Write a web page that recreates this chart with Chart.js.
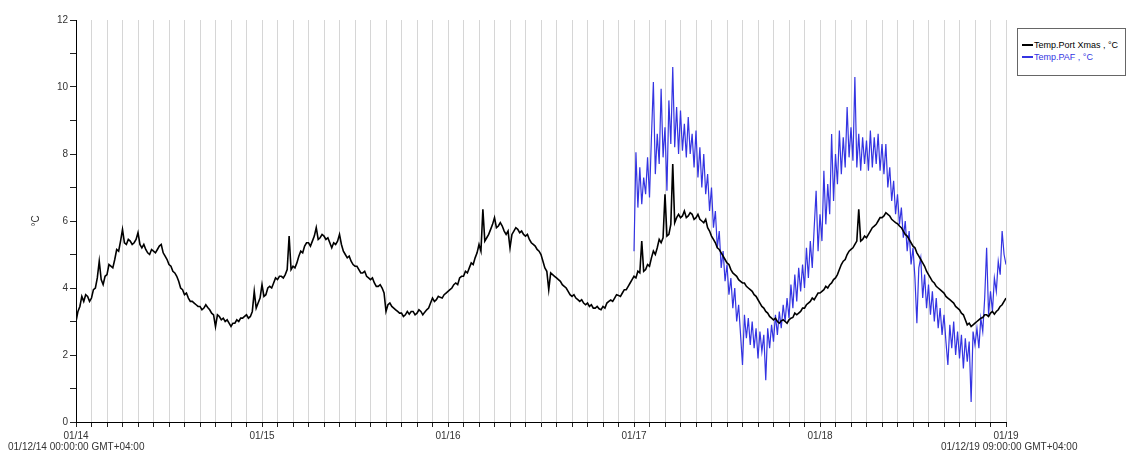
<!DOCTYPE html>
<html><head><meta charset="utf-8">
<script src="https://cdn.jsdelivr.net/npm/chart.js@4.4.0/dist/chart.umd.min.js"></script>
<style>
html,body{margin:0;padding:0;background:#fff;}
#wrap{position:relative;width:1130px;height:452px;overflow:hidden;}
canvas{position:absolute;left:0;top:0;}
.lbl{position:absolute;font-family:"Liberation Sans",Arial,sans-serif;font-size:10px;color:#333;white-space:nowrap;line-height:12px;}
#legend{position:absolute;left:1017px;top:28px;width:109px;height:48px;border:1px solid #666;box-sizing:border-box;font-family:"Liberation Sans",Arial,sans-serif;font-size:9px;line-height:12px;padding-top:10px;padding-left:4px;background:#fff;}
#legend div{white-space:nowrap;}
#legend span.sw{display:inline-block;width:11px;height:2px;vertical-align:middle;margin-right:1px;margin-top:-2px;}
</style></head>
<body>
<div id="wrap">
<canvas id="c" width="1130" height="452"></canvas>
<div id="legend"></div>
<div class="lbl" id="startLbl" style="left:8px;top:441px;"></div>
<div class="lbl" id="endLbl" style="left:941px;top:441px;"></div>
</div>
<script>
// ---- data ----
const dayLabels = ['01/14','01/15','01/16','01/17','01/18','01/19'];
const seriesNames = ['Temp.Port Xmas , \u00B0C', 'Temp.PAF , \u00B0C'];
const startText = '01/12/14 00:00:00  GMT+04:00';
const endText = '01/12/19 09:00:00  GMT+04:00';
const yTitle = '\u00B0C';
const sampleStepHours = 0.25;
const portXmasStartHour = 0;
const portXmasTemps = [
 3.00,3.30,3.45,3.75, 3.60,3.80,3.75,3.60, 3.70,3.95,4.00,4.30, 4.80,4.25,4.10,4.35, 4.40,4.70,4.65,4.60,
 4.85,5.15,5.10,5.40, 5.75,5.35,5.30,5.45, 5.40,5.30,5.35,5.45, 5.65,5.30,5.20,5.30, 5.15,5.05,5.00,5.15,
 5.10,5.05,5.15,5.25, 5.30,5.05,4.95,4.85, 4.70,4.65,4.50,4.45, 4.35,4.20,4.00,3.95, 3.80,3.85,3.70,3.60,
 3.60,3.55,3.50,3.45, 3.45,3.35,3.40,3.50, 3.42,3.35,3.25,3.20, 2.85,3.20,3.15,3.05, 3.10,3.00,3.05,2.95,
 2.85,2.95,2.95,3.05, 3.00,3.10,3.10,3.15, 3.20,3.10,3.15,3.30, 3.90,3.40,3.55,3.70, 4.10,3.75,3.80,4.00,
 4.05,4.00,4.15,4.30, 4.25,4.35,4.35,4.30, 4.40,4.55,5.55,4.55, 4.65,4.60,4.75,4.95, 5.10,5.05,5.25,5.35,
 5.35,5.25,5.40,5.55, 5.80,5.45,5.50,5.60, 5.55,5.45,5.50,5.35, 5.20,5.35,5.30,5.40, 5.60,5.30,5.10,5.00,
 4.90,4.95,4.80,4.70, 4.65,4.65,4.55,4.45, 4.45,4.50,4.35,4.30, 4.25,4.30,4.15,4.05, 4.05,4.10,4.00,3.85,
 3.30,3.50,3.55,3.45, 3.40,3.35,3.30,3.25, 3.25,3.15,3.20,3.30, 3.22,3.30,3.30,3.20, 3.25,3.35,3.30,3.20,
 3.28,3.35,3.40,3.55, 3.70,3.60,3.65,3.75, 3.72,3.70,3.80,3.85, 3.90,3.95,4.00,4.10, 4.15,4.10,4.30,4.35,
 4.35,4.50,4.45,4.60, 4.75,4.70,4.90,5.05, 5.30,5.10,6.35,5.40, 5.50,5.60,5.75,5.90, 6.10,5.80,5.85,5.95,
 5.85,5.70,5.60,5.70, 5.20,5.60,5.70,5.80, 5.75,5.65,5.70,5.60, 5.55,5.60,5.45,5.35, 5.30,5.25,5.15,5.10,
 5.00,4.80,4.60,4.50, 3.95,4.45,4.40,4.35, 4.30,4.25,4.20,4.10, 4.05,4.00,3.90,3.80, 3.75,3.80,3.70,3.65,
 3.60,3.65,3.55,3.50, 3.55,3.45,3.50,3.40, 3.40,3.45,3.38,3.35, 3.45,3.40,3.55,3.60, 3.64,3.60,3.70,3.80,
 3.78,3.75,3.85,3.95, 3.95,4.05,4.15,4.25, 4.35,4.30,4.50,4.45, 5.40,4.50,4.55,4.70, 4.65,4.90,5.10,5.00,
 5.20,5.45,5.35,5.50, 6.80,5.55,5.60,5.90, 7.70,5.95,6.10,6.20, 6.10,6.15,6.30,6.10, 6.15,6.25,6.20,6.05,
 6.10,6.20,6.05,6.00, 5.95,6.05,5.80,5.70, 5.55,5.45,5.35,5.20, 5.15,5.05,4.95,4.85, 4.75,4.70,4.55,4.45,
 4.40,4.35,4.25,4.20, 4.15,4.15,4.05,4.00, 3.95,3.90,3.80,3.75, 3.65,3.55,3.45,3.40, 3.30,3.25,3.15,3.10,
 3.05,3.10,3.00,2.95, 3.02,3.05,3.00,2.95, 3.05,3.10,3.12,3.25, 3.20,3.25,3.30,3.40, 3.40,3.50,3.55,3.60,
 3.70,3.65,3.75,3.85, 3.85,3.90,3.95,4.05, 4.00,4.10,4.15,4.25, 4.30,4.40,4.55,4.70, 4.80,4.85,5.00,5.10,
 5.15,5.20,5.30,5.40, 6.35,5.40,5.45,5.55, 5.50,5.60,5.70,5.80, 5.85,5.90,6.00,6.10, 6.10,6.15,6.25,6.20,
 6.15,6.05,6.00,5.95, 5.92,5.85,5.80,5.70, 5.60,5.55,5.45,5.35, 5.25,5.20,5.05,4.95, 4.85,4.75,4.65,4.50,
 4.40,4.30,4.20,4.15, 4.05,4.00,3.95,3.90, 3.85,3.75,3.70,3.65, 3.60,3.55,3.45,3.40, 3.35,3.25,3.20,3.05,
 2.90,2.95,2.85,2.90, 2.95,3.00,3.05,3.10, 3.12,3.20,3.20,3.15, 3.25,3.30,3.22,3.30, 3.35,3.45,3.50,3.60,
 3.70
];
const pafStartHour = 72;
const pafTemps = [
 5.10,8.05,6.40,7.60, 6.50,7.30,6.80,7.90, 6.70,8.50,10.15,7.40, 8.60,7.70,9.95,7.90, 8.80,6.90,9.60,8.30,
 10.60,8.20,9.40,8.00, 9.30,8.10,8.90,7.90, 9.10,8.00,8.60,7.60, 8.70,7.30,8.20,7.00, 8.00,6.80,7.40,6.30,
 7.00,5.80,6.30,5.20, 5.70,4.60,5.10,4.20, 4.70,3.80,4.30,3.40, 4.00,3.00,3.50,2.60, 1.70,3.20,2.50,3.10,
 2.30,3.00,2.20,2.80, 1.90,2.70,2.10,2.60, 1.25,2.80,2.20,2.90, 2.40,3.20,2.60,3.30, 2.80,3.50,3.00,3.70,
 3.10,4.10,3.40,4.40, 3.60,4.60,3.90,4.70, 4.00,5.20,4.30,5.40, 4.60,5.80,6.90,5.10, 6.20,5.40,7.50,5.90,
 7.10,6.20,8.60,6.60, 8.00,7.10,8.70,7.40, 8.50,7.60,9.40,7.90, 8.80,7.80,10.30,7.60, 8.60,7.50,8.50,7.70,
 8.40,7.50,8.70,7.60, 8.50,7.70,8.60,7.50, 8.30,7.40,8.30,7.00, 7.60,6.60,7.20,6.20, 6.80,5.90,6.40,5.50,
 6.00,5.10,5.70,4.70, 5.20,4.30,2.95,4.60, 4.90,3.70,4.40,3.40, 4.10,3.20,3.90,3.00, 3.70,2.80,3.40,2.60,
 3.20,2.40,1.70,2.90, 2.20,3.00,2.00,2.70, 1.90,2.60,1.60,2.50, 1.80,2.40,0.60,2.70, 2.30,2.80,2.20,3.10,
 2.70,3.70,5.20,3.20, 3.90,3.30,4.30,3.90, 4.80,4.40,5.70,5.00,
 4.70
];
const colors = ['#000000', '#3434e2'];

// ---- build ----
function toPoints(start, arr){ return arr.map((v,i)=>({x:start+i*sampleStepHours, y:v})); }
const FONT = {family:'"Liberation Sans", Arial, sans-serif', size:10};

document.getElementById('startLbl').textContent = startText;
document.getElementById('endLbl').textContent = endText;
const lg = document.getElementById('legend');
seriesNames.forEach((n,i)=>{
  const d=document.createElement('div');
  d.style.color = colors[i];
  d.innerHTML = '<span class="sw" style="background:'+colors[i]+'"></span>';
  d.appendChild(document.createTextNode(n));
  lg.appendChild(d);
});

new Chart(document.getElementById('c'), {
  type:'line',
  data:{datasets:[
    {label:seriesNames[0], data:toPoints(portXmasStartHour, portXmasTemps), borderColor:colors[0], borderWidth:1.6, pointRadius:0, tension:0, fill:false},
    {label:seriesNames[1], data:toPoints(pafStartHour, pafTemps), borderColor:colors[1], borderWidth:1.2, pointRadius:0, tension:0, fill:false}
  ]},
  options:{
    responsive:false, animation:false, devicePixelRatio:1,
    layout:{padding:{left:0,right:124,top:20,bottom:0}},
    plugins:{legend:{display:false}, tooltip:{enabled:false}},
    scales:{
      x:{type:'linear', min:0, max:120,
        afterBuildTicks:s=>{const t=[];for(let h=0;h<=120;h+=2)t.push({value:h});s.ticks=t;},
        afterFit:s=>{s.height=30;},
        ticks:{autoSkip:false, maxRotation:0, padding:3, color:'#333', font:FONT,
          callback:v=> (v%24===0 ? dayLabels[v/24] : '')},
        grid:{color:'#d6d6d6', lineWidth:1, drawTicks:true, tickLength:5, tickColor:'#222'},
        border:{color:'#000', width:1}
      },
      y:{min:0, max:12,
        afterBuildTicks:s=>{const t=[];for(let v=0;v<=12;v++)t.push({value:v});s.ticks=t;},
        afterFit:s=>{s.width=76;},
        ticks:{autoSkip:false, padding:2, color:'#333', font:FONT,
          callback:v=> (v%2===0 ? String(v) : '')},
        grid:{drawOnChartArea:false, drawTicks:true, tickLength:6, tickColor:'#222'},
        border:{color:'#000', width:1},
        title:{display:true, text:yTitle, color:'#333', font:FONT, padding:{top:30,bottom:0}}
      }
    }
  }
});
</script>
</body></html>
